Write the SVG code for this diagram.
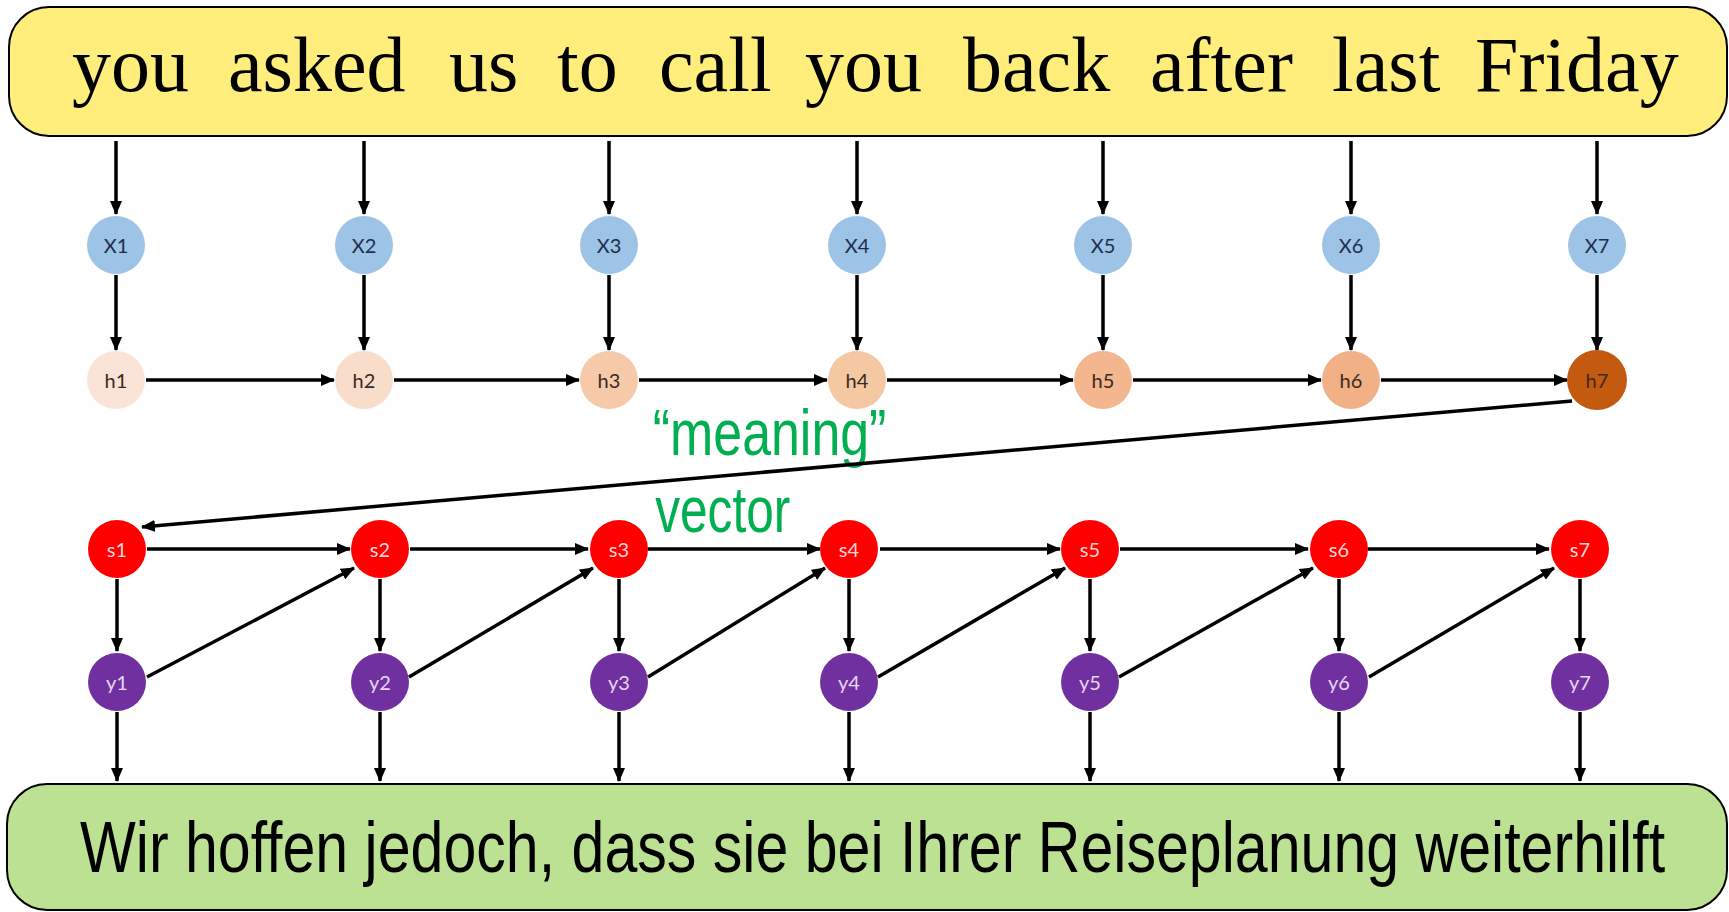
<svg xmlns="http://www.w3.org/2000/svg" width="1729" height="912" viewBox="0 0 1729 912">
<style>
.box{stroke:#000;stroke-width:2}
.serif{font-family:"Liberation Serif","Times New Roman",serif;font-size:78px;fill:#000}
.sans{font-family:"Liberation Sans",Arial,sans-serif;fill:#000}
.green{font-family:"Liberation Sans",Arial,sans-serif;font-size:64px;fill:#00B050}
.lbl{font-family:Lato,"Open Sans",sans-serif;font-size:20px;text-anchor:middle;dominant-baseline:central}
.xl{fill:#1F2D4D}
.hl{fill:#3A2A1E}
.sl{fill:#FFD6D6}
.yl{fill:#E6D8F2}
.xc{fill:#9DC3E6}
.sc{fill:#FF0000}
.yc{fill:#7030A0}
.conn line{stroke:#000;stroke-width:3.5;marker-end:url(#ah)}
</style>
<defs>
<marker id="ah" markerWidth="14" markerHeight="12" refX="13" refY="6" orient="auto" markerUnits="userSpaceOnUse">
<path d="M0,0 L14,6 L0,12 z" fill="#000"/>
</marker>
</defs>
<rect width="1729" height="912" fill="#fff"/>

<g id="source">
<rect class="box" x="9" y="7" width="1718" height="129" rx="40" fill="#FFEE7C"/>
<text class="serif" y="91"><tspan x="72">you</tspan><tspan x="228">asked</tspan><tspan x="449">us</tspan><tspan x="557">to</tspan><tspan x="659">call</tspan><tspan x="805">you</tspan><tspan x="963">back</tspan><tspan x="1150">after</tspan><tspan x="1332">last</tspan><tspan x="1475">Friday</tspan></text>
</g>

<g id="target">
<rect class="box" x="7" y="784" width="1720" height="126" rx="40" fill="#BCE192"/>
<g transform="scale(0.82,1)">
<text class="sans" x="97.6" y="872" font-size="72" textLength="1933" lengthAdjust="spacingAndGlyphs">Wir hoffen jedoch, dass sie bei Ihrer Reiseplanung weiterhilft</text>
</g>
</g>

<g id="meaning-label" transform="scale(0.8,1)">
<text class="green" x="816" y="455" textLength="292" lengthAdjust="spacingAndGlyphs">“meaning”</text>
<text class="green" x="819" y="532" textLength="169" lengthAdjust="spacingAndGlyphs">vector</text>
</g>

<g id="connectors" class="conn">
<!-- source to X -->
<line x1="116" y1="141" x2="116" y2="214"/>
<line x1="364" y1="141" x2="364" y2="214"/>
<line x1="609" y1="141" x2="609" y2="214"/>
<line x1="857" y1="141" x2="857" y2="214"/>
<line x1="1103" y1="141" x2="1103" y2="214"/>
<line x1="1351" y1="141" x2="1351" y2="214"/>
<line x1="1597" y1="141" x2="1597" y2="214"/>
<!-- X to h -->
<line x1="116" y1="275" x2="116" y2="350"/>
<line x1="364" y1="275" x2="364" y2="350"/>
<line x1="609" y1="275" x2="609" y2="350"/>
<line x1="857" y1="275" x2="857" y2="350"/>
<line x1="1103" y1="275" x2="1103" y2="350"/>
<line x1="1351" y1="275" x2="1351" y2="350"/>
<line x1="1597" y1="275" x2="1597" y2="350"/>
<!-- h chain -->
<line x1="146" y1="380" x2="334" y2="380"/>
<line x1="394" y1="380" x2="579" y2="380"/>
<line x1="639" y1="380" x2="827" y2="380"/>
<line x1="887" y1="380" x2="1073" y2="380"/>
<line x1="1133" y1="380" x2="1321" y2="380"/>
<line x1="1381" y1="380" x2="1567" y2="380"/>
<!-- meaning vector -->
<line x1="1572" y1="401" x2="142" y2="527"/>
<!-- s chain -->
<line x1="147" y1="549" x2="350" y2="549"/>
<line x1="410" y1="549" x2="588" y2="549"/>
<line x1="648" y1="549" x2="820" y2="549"/>
<line x1="880" y1="549" x2="1060" y2="549"/>
<line x1="1120" y1="549" x2="1308" y2="549"/>
<line x1="1368" y1="549" x2="1549" y2="549"/>
<!-- s to y -->
<line x1="117" y1="579" x2="117" y2="651"/>
<line x1="380" y1="579" x2="380" y2="651"/>
<line x1="619" y1="579" x2="619" y2="651"/>
<line x1="849" y1="579" x2="849" y2="651"/>
<line x1="1090" y1="579" x2="1090" y2="651"/>
<line x1="1339" y1="579" x2="1339" y2="651"/>
<line x1="1580" y1="579" x2="1580" y2="651"/>
<!-- y to s (feedback) -->
<line x1="147" y1="677" x2="354" y2="568"/>
<line x1="409" y1="677" x2="593" y2="568"/>
<line x1="648" y1="677" x2="825" y2="568"/>
<line x1="878" y1="677" x2="1065" y2="568"/>
<line x1="1119" y1="677" x2="1313" y2="568"/>
<line x1="1369" y1="677" x2="1554" y2="568"/>
<!-- y to target -->
<line x1="117" y1="712" x2="117" y2="781"/>
<line x1="380" y1="712" x2="380" y2="781"/>
<line x1="619" y1="712" x2="619" y2="781"/>
<line x1="849" y1="712" x2="849" y2="781"/>
<line x1="1090" y1="712" x2="1090" y2="781"/>
<line x1="1339" y1="712" x2="1339" y2="781"/>
<line x1="1580" y1="712" x2="1580" y2="781"/>
</g>

<g id="X1"><circle class="xc" cx="116" cy="245" r="29"/><text class="lbl xl" x="116" y="245">X1</text></g>
<g id="X2"><circle class="xc" cx="364" cy="245" r="29"/><text class="lbl xl" x="364" y="245">X2</text></g>
<g id="X3"><circle class="xc" cx="609" cy="245" r="29"/><text class="lbl xl" x="609" y="245">X3</text></g>
<g id="X4"><circle class="xc" cx="857" cy="245" r="29"/><text class="lbl xl" x="857" y="245">X4</text></g>
<g id="X5"><circle class="xc" cx="1103" cy="245" r="29"/><text class="lbl xl" x="1103" y="245">X5</text></g>
<g id="X6"><circle class="xc" cx="1351" cy="245" r="29"/><text class="lbl xl" x="1351" y="245">X6</text></g>
<g id="X7"><circle class="xc" cx="1597" cy="245" r="29"/><text class="lbl xl" x="1597" y="245">X7</text></g>

<g id="h1"><circle fill="#FAE4D7" cx="116" cy="380" r="29"/><text class="lbl hl" x="116" y="380">h1</text></g>
<g id="h2"><circle fill="#F9DDCB" cx="364" cy="380" r="29"/><text class="lbl hl" x="364" y="380">h2</text></g>
<g id="h3"><circle fill="#F6C9A9" cx="609" cy="380" r="29"/><text class="lbl hl" x="609" y="380">h3</text></g>
<g id="h4"><circle fill="#F5C8A4" cx="857" cy="380" r="29"/><text class="lbl hl" x="857" y="380">h4</text></g>
<g id="h5"><circle fill="#F3B68E" cx="1103" cy="380" r="29"/><text class="lbl hl" x="1103" y="380">h5</text></g>
<g id="h6"><circle fill="#F2B086" cx="1351" cy="380" r="29"/><text class="lbl hl" x="1351" y="380">h6</text></g>
<g id="h7"><circle fill="#C45A10" cx="1597" cy="380" r="30"/><text class="lbl hl" x="1597" y="380">h7</text></g>

<g id="s1"><circle class="sc" cx="117" cy="549" r="29"/><text class="lbl sl" x="117" y="549">s1</text></g>
<g id="s2"><circle class="sc" cx="380" cy="549" r="29"/><text class="lbl sl" x="380" y="549">s2</text></g>
<g id="s3"><circle class="sc" cx="619" cy="549" r="29"/><text class="lbl sl" x="619" y="549">s3</text></g>
<g id="s4"><circle class="sc" cx="849" cy="549" r="29"/><text class="lbl sl" x="849" y="549">s4</text></g>
<g id="s5"><circle class="sc" cx="1090" cy="549" r="29"/><text class="lbl sl" x="1090" y="549">s5</text></g>
<g id="s6"><circle class="sc" cx="1339" cy="549" r="29"/><text class="lbl sl" x="1339" y="549">s6</text></g>
<g id="s7"><circle class="sc" cx="1580" cy="549" r="29"/><text class="lbl sl" x="1580" y="549">s7</text></g>

<g id="y1"><circle class="yc" cx="117" cy="682" r="29"/><text class="lbl yl" x="117" y="682">y1</text></g>
<g id="y2"><circle class="yc" cx="380" cy="682" r="29"/><text class="lbl yl" x="380" y="682">y2</text></g>
<g id="y3"><circle class="yc" cx="619" cy="682" r="29"/><text class="lbl yl" x="619" y="682">y3</text></g>
<g id="y4"><circle class="yc" cx="849" cy="682" r="29"/><text class="lbl yl" x="849" y="682">y4</text></g>
<g id="y5"><circle class="yc" cx="1090" cy="682" r="29"/><text class="lbl yl" x="1090" y="682">y5</text></g>
<g id="y6"><circle class="yc" cx="1339" cy="682" r="29"/><text class="lbl yl" x="1339" y="682">y6</text></g>
<g id="y7"><circle class="yc" cx="1580" cy="682" r="29"/><text class="lbl yl" x="1580" y="682">y7</text></g>
</svg>
